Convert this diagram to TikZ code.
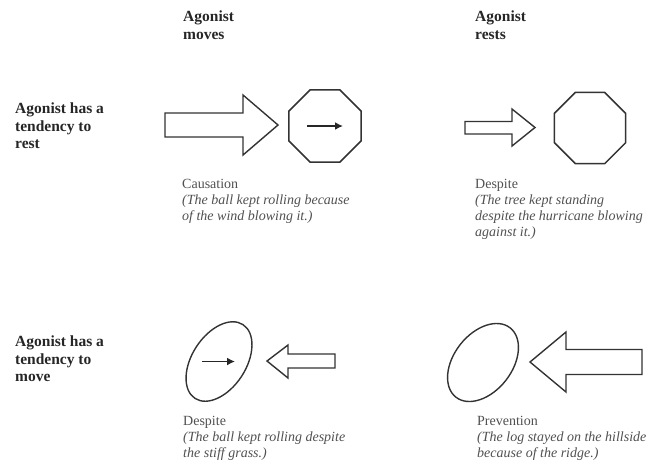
\documentclass[tikz,border=0pt]{standalone}
\usepackage{fontspec}
\setmainfont{Liberation Serif}
\usetikzlibrary{shapes.geometric,arrows.meta}
\definecolor{ink}{HTML}{333333}
\definecolor{captext}{HTML}{505050}
\tikzset{
  hdr/.style={anchor=north west, inner sep=0pt, align=left, text=black!85,
    font=\fontsize{15.5}{17.5}\selectfont\bfseries},
  captxt/.style={anchor=north west, inner sep=0pt, align=left, text=captext,
    font=\fontsize{14}{16}\selectfont},
  outline/.style={draw=ink, line width=1.4pt, line join=miter, fill=white},
  octo/.style={draw=ink, line width=1.5pt, regular polygon, regular polygon sides=8,
    minimum size=78pt, inner sep=0pt},
  ovalshape/.style={draw=ink, line width=1.4pt, ellipse, inner sep=0pt},
  innerarrow/.style={draw=black!85, line width=1.8pt, -{Latex[length=8pt,width=8pt]}}
}
\begin{document}
\begin{tikzpicture}[x=1pt,y=-1pt]
\useasboundingbox (0,0) rectangle (652,464);
% column headers
\node[hdr] (hmoves) at (183,11) {Agonist\\moves};
\node[hdr] (hrests) at (475,11) {Agonist\\rests};
% row labels
\node[hdr] (lrest) at (15,103) {Agonist has a\\tendency to\\rest};
\node[hdr] (lmove) at (15,336) {Agonist has a\\tendency to\\move};

% ---- top left: causation
\draw[outline] (165,113) -- (243,113) -- (243,95) -- (278,125) -- (243,155) -- (243,137) -- (165,137) -- cycle;
\node[octo] (oct1) at (325,126) {};
\draw[innerarrow] ([xshift=-18pt]oct1.center) -- ([xshift=18pt]oct1.center);
\node[captxt] (c1) at (182,179) {Causation\\\textit{(The ball kept rolling because}\\\textit{of the wind blowing it.)}};

% ---- top right: despite
\draw[outline] (465,121.5) -- (512,121.5) -- (512,109) -- (535,127.5) -- (512,146) -- (512,134) -- (465,134) -- cycle;
\node[octo, minimum size=77pt] (oct2) at (590,128) {};
\node[captxt] (c2) at (475,179) {Despite\\\textit{(The tree kept standing}\\\textit{despite the hurricane blowing}\\\textit{against it.)}};

% ---- bottom left: despite
\node[ovalshape, minimum width=88pt, minimum height=54pt, rotate=57] (ell1) at (219,361.5) {};
\draw[innerarrow] ([xshift=-17pt]ell1.center) -- ([xshift=16pt]ell1.center);
\draw[outline] (335,354) -- (288,354) -- (288,345) -- (267,361) -- (288,378) -- (288,368) -- (335,368) -- cycle;
\node[captxt] (c3) at (183,416) {Despite\\\textit{(The ball kept rolling despite}\\\textit{the stiff grass.)}};

% ---- bottom right: prevention
\node[ovalshape, minimum width=88pt, minimum height=58pt, rotate=52] (ell2) at (483,362.5) {};
\draw[outline] (642,349.5) -- (566,349.5) -- (566,332) -- (530,362) -- (566,392) -- (566,374.5) -- (642,374.5) -- cycle;
\node[captxt] (c4) at (477,416) {Prevention\\\textit{(The log stayed on the hillside}\\\textit{because of the ridge.)}};
\end{tikzpicture}
\end{document}
